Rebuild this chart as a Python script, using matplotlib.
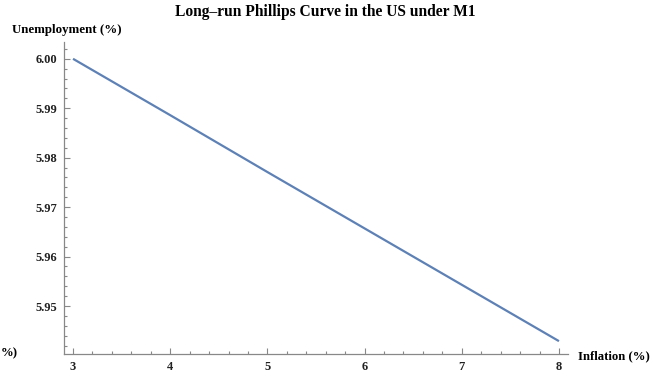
import numpy as np
import matplotlib
matplotlib.use("Agg")
import matplotlib.pyplot as plt
from matplotlib.ticker import MultipleLocator, FormatStrFormatter

# long-run curve: unemployment vs inflation
inflation = [3, 4, 5, 6, 7, 8]
unemployment = [6.0000, 5.9886, 5.9771, 5.9657, 5.9543, 5.9429]

x_ticks = [3, 4, 5, 6, 7, 8]
y_ticks = [5.95, 5.96, 5.97, 5.98, 5.99, 6.00]

plt.rcParams['font.family'] = ['Liberation Serif', 'DejaVu Serif']
plt.rcParams['font.weight'] = 'bold'

fig = plt.figure(figsize=(6.62, 3.75), dpi=100)
ax = fig.add_axes([64/662, 21/375, (568-64)/662, (354-42)/375])

ax.plot(inflation, unemployment, color='#5E81B5', lw=1.6, solid_capstyle='butt')

ax.set_xlim(2.907, 8.093)
ax.set_ylim(5.9403, 6.0034)

axis_grey = '#888888'
for side in ['top', 'right']:
    ax.spines[side].set_visible(False)
for side in ['left', 'bottom']:
    ax.spines[side].set_color(axis_grey)
    ax.spines[side].set_linewidth(0.9)

ax.set_xticks(x_ticks)
ax.set_yticks(y_ticks)
ax.xaxis.set_minor_locator(MultipleLocator(0.2))
ax.yaxis.set_minor_locator(MultipleLocator(0.002))
ax.yaxis.set_major_formatter(FormatStrFormatter('%.2f'))
ax.tick_params(which='both', direction='in', color=axis_grey, width=0.8,
               labelsize=9, labelcolor='#222222')
ax.tick_params(which='major', length=4.5)
ax.tick_params(which='minor', length=2.5)
ax.tick_params(axis='x', pad=5)
ax.tick_params(axis='y', pad=5)
for lbl in ax.get_xticklabels() + ax.get_yticklabels():
    lbl.set_fontweight('bold')

fig.text(0.491, 0.967, 'Long\u2013run Phillips Curve in the US under M1',
         ha='center', va='center', fontsize=11.2, fontweight='bold')
fig.text(12/662, 1 - 30/375, 'Unemployment (%)', ha='left', va='center',
         fontsize=9.3, fontweight='bold')
fig.text(578/662, 1 - 356/375, 'Inflation (%)', ha='left', va='center',
         fontsize=9.2, fontweight='bold')
fig.text(0.5/662, 1 - 353/375, '%)', ha='left', va='center',
         fontsize=9.2, fontweight='bold')

fig.savefig('out.png', dpi=100)
